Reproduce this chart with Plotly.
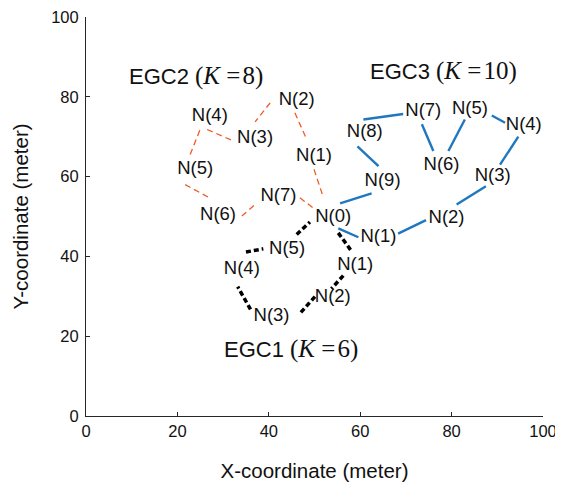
import plotly.graph_objects as go

# ---------------- data (meters) ----------------
# node label positions per cluster
egc1_labels = ["N(1)", "N(2)", "N(3)", "N(4)", "N(5)"]
egc1_lx = [58.9, 54.0, 40.6, 34.1, 44.0]
egc1_ly = [37.7, 29.7, 24.9, 36.8, 41.8]

egc2_labels = ["N(1)", "N(2)", "N(3)", "N(4)", "N(5)", "N(6)", "N(7)"]
egc2_lx = [49.9, 46.1, 37.0, 27.1, 23.9, 28.9, 42.1]
egc2_ly = [65.0, 79.2, 69.6, 75.0, 61.7, 50.4, 55.0]

egc3_labels = ["N(1)", "N(2)", "N(3)", "N(4)", "N(5)", "N(6)", "N(7)", "N(8)", "N(9)"]
egc3_lx = [64.0, 78.9, 89.0, 95.8, 84.0, 77.8, 73.8, 61.0, 64.9]
egc3_ly = [44.7, 49.5, 60.0, 72.9, 76.8, 62.9, 76.3, 71.0, 58.7]

sink_label = "N(0)"
sink_x = [54.1]
sink_y = [49.8]

# link segments (start -> end) per cluster
egc1_x0 = [55.2, 56.3, 50.1, 36.0, 35.0, 46.1]
egc1_y0 = [45.9, 35.2, 29.9, 26.7, 41.1, 45.5]
egc1_x1 = [58.1, 53.7, 46.8, 33.2, 38.8, 49.0]
egc1_y1 = [41.3, 31.9, 25.7, 32.4, 41.9, 48.6]

egc2_x0 = [40.3, 26.5, 24.9, 21.7, 34.1, 46.8, 45.7, 49.9]
egc2_y0 = [78.5, 71.8, 71.6, 58.0, 50.1, 54.7, 76.0, 61.8]
egc2_x1 = [37.0, 31.9, 22.6, 27.3, 37.4, 50.1, 48.3, 51.9]
egc2_y1 = [73.7, 69.1, 65.0, 54.5, 53.4, 51.8, 69.3, 54.9]

egc3_x0 = [60.7, 73.5, 79.3, 88.8, 94.6, 87.5, 74.4, 55.2, 55.6, 59.4]
egc3_y0 = [74.3, 73.1, 66.4, 75.3, 70.0, 57.6, 49.1, 47.0, 53.3, 67.6]
egc3_x1 = [69.4, 76.0, 82.9, 91.7, 90.6, 81.1, 68.3, 59.6, 62.5, 64.0]
egc3_y1 = [75.7, 66.4, 74.3, 73.5, 63.0, 53.0, 45.7, 44.8, 55.8, 62.6]

cluster_names = ["EGC1", "EGC2", "EGC3"]
cluster_k = [6, 8, 10]
cluster_lx = [44.8, 24.1, 78.2]
cluster_ly = [16.7, 85.3, 86.4]

x_ticks = [0, 20, 40, 60, 80, 100]
y_ticks = [0, 20, 40, 60, 80, 100]


def seg_xy(x0, y0, x1, y1):
    xs, ys = [], []
    for a, b, c, d in zip(x0, y0, x1, y1):
        xs += [a, c, None]
        ys += [b, d, None]
    return xs, ys


fig = go.Figure()

styles = [
    (egc2_x0, egc2_y0, egc2_x1, egc2_y1, dict(color="#f05a28", width=1.3, dash="6px,4px")),
    (egc3_x0, egc3_y0, egc3_x1, egc3_y1, dict(color="#1f77c0", width=2.4)),
    (egc1_x0, egc1_y0, egc1_x1, egc1_y1, dict(color="black", width=3.5, dash="5px,3px")),
]
for x0, y0, x1, y1, ln in styles:
    xs, ys = seg_xy(x0, y0, x1, y1)
    fig.add_trace(go.Scatter(x=xs, y=ys, mode="lines", line=ln,
                             hoverinfo="skip", showlegend=False, cliponaxis=False))

all_lx = egc1_lx + egc2_lx + egc3_lx + sink_x
all_ly = egc1_ly + egc2_ly + egc3_ly + sink_y
all_lt = egc1_labels + egc2_labels + egc3_labels + [sink_label]
fig.add_trace(go.Scatter(
    x=all_lx, y=all_ly, text=all_lt, mode="text",
    textposition="middle center", cliponaxis=False,
    textfont=dict(family="Liberation Sans, Arial", size=18.5, color="#111"),
    hoverinfo="skip", showlegend=False))

for name, k, x, y in zip(cluster_names, cluster_k, cluster_lx, cluster_ly):
    fig.add_annotation(
        x=x, y=y, xref="x", yref="y", showarrow=False,
        text=(f"{name} <span style='font-family:Liberation Serif, Times New Roman;"
              f"font-size:25px'>(<i>K</i> =&#8202;{k})</span>"),
        font=dict(family="Liberation Sans, Arial", size=22, color="#111"),
        xanchor="center", yanchor="middle")

axis_common = dict(
    range=[0, 100], showgrid=False, zeroline=False, showline=True,
    linecolor="#262626", linewidth=1, ticks="inside", ticklen=4,
    tickwidth=1, tickcolor="#262626", mirror=False, automargin=False,
    ticklabeloverflow="allow",
    tickfont=dict(family="Liberation Sans, Arial", size=16.5, color="#111"),
    title_font=dict(family="Liberation Sans, Arial", size=20.5, color="#111"),
)
fig.update_xaxes(**axis_common, tickvals=x_ticks,
                 ticktext=[str(v) for v in x_ticks],
                 title_text="X-coordinate (meter)", title_standoff=24)
fig.update_yaxes(**axis_common, tickvals=y_ticks,
                 ticktext=[str(v) for v in y_ticks], ticklabelstandoff=3,
                 title_text="Y-coordinate (meter)", title_standoff=16)

# the page adds an 8px body margin, so the figure is sized to fit the window
fig.update_layout(
    width=555, height=474,
    margin=dict(l=78, r=20, t=9, b=66, pad=0),
    paper_bgcolor="white", plot_bgcolor="white",
)

fig.write_html("out.html")
